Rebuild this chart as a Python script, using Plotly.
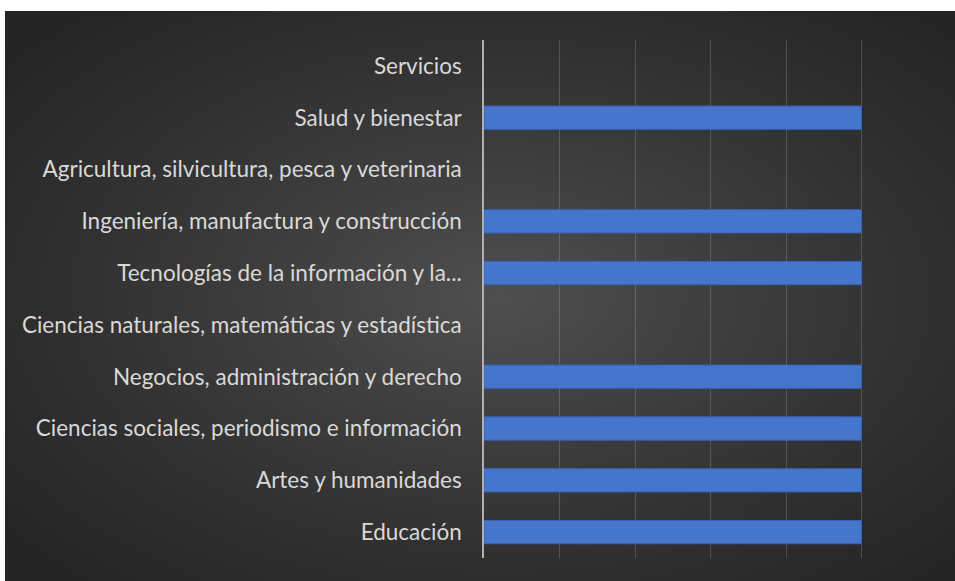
import base64
import struct
import zlib

import numpy as np
import plotly.graph_objects as go

categories = [
    "Educación",
    "Artes y humanidades",
    "Ciencias sociales, periodismo e información",
    "Negocios, administración y derecho",
    "Ciencias naturales, matemáticas y estadística",
    "Tecnologías de la información y la...",
    "Ingeniería, manufactura y construcción",
    "Agricultura, silvicultura, pesca y veterinaria",
    "Salud y bienestar",
    "Servicios",
]
values = [1, 1, 1, 1, None, 1, 1, None, 1, None]
x_ticks = [0, 0.2, 0.4, 0.6, 0.8, 1.0, 1.2]


def png_uri(arr):
    h, w, _ = arr.shape
    raw = b"".join(b"\x00" + arr[i].tobytes() for i in range(h))

    def chunk(tag, data):
        c = struct.pack(">I", len(data)) + tag + data
        return c + struct.pack(">I", zlib.crc32(tag + data) & 0xFFFFFFFF)

    png = b"\x89PNG\r\n\x1a\n"
    png += chunk(b"IHDR", struct.pack(">IIBBBBB", w, h, 8, 2, 0, 0, 0))
    png += chunk(b"IDAT", zlib.compress(raw, 9))
    png += chunk(b"IEND", b"")
    return "data:image/png;base64," + base64.b64encode(png).decode()


# radial background gradient (Excel dark style)
W, H = 475, 285
yy, xx = np.mgrid[0:H, 0:W]
cx, cy = W * 0.52, H * 0.5
r = np.sqrt(((xx - cx) / (W * 0.5)) ** 2 + ((yy - cy) / (H * 0.5)) ** 2) / np.sqrt(2)
r = np.clip(r, 0, 1)
inner, outer = 80.0, 36.0
v = outer + (inner - outer) * (1 - r) ** 1.2
img = np.repeat(v[:, :, None], 3, axis=2).astype(np.uint8)
bg_uri = png_uri(img)

# plot area in pixels: x 484..937, y 40..558
L, R, T, B = 484, 937, 40, 558
pw, ph = R - L, B - T

fig = go.Figure(
    go.Bar(
        y=categories,
        x=values,
        orientation="h",
        width=0.45,
        marker=dict(color="#4676CC", line=dict(color="#3562B4", width=1)),
    )
)

fig.add_layout_image(
    source=bg_uri,
    xref="paper",
    yref="paper",
    x=(5 - L) / pw,
    y=(B - 11) / ph,
    sizex=(955 - 5) / pw,
    sizey=(581 - 11) / ph,
    xanchor="left",
    yanchor="top",
    sizing="stretch",
    layer="below",
)

fig.update_layout(
    width=955,
    height=581,
    margin=dict(l=L, r=955 - R, t=T, b=581 - B, pad=0),
    paper_bgcolor="white",
    plot_bgcolor="rgba(0,0,0,0)",
    showlegend=False,
    font=dict(family="Lato", size=22.5, color="#d9d9d9"),
)
fig.update_xaxes(
    range=[0, 1.2],
    tickvals=x_ticks,
    showticklabels=False,
    showgrid=True,
    gridcolor="rgba(255,255,255,0.17)",
    gridwidth=1,
    zeroline=False,
    showline=False,
)
fig.update_yaxes(
    categoryorder="array",
    categoryarray=categories,
    showgrid=False,
    showline=True,
    linecolor="#b0b0b0",
    linewidth=1.5,
    ticks="outside",
    ticklen=16,
    tickcolor="rgba(0,0,0,0)",
    tickfont=dict(family="Lato", size=22.5, color="#d9d9d9"),
)

fig.write_html(
    "out.html",
    config={"displayModeBar": False},
    post_script="document.body.style.margin='0';document.body.style.padding='0';",
)
